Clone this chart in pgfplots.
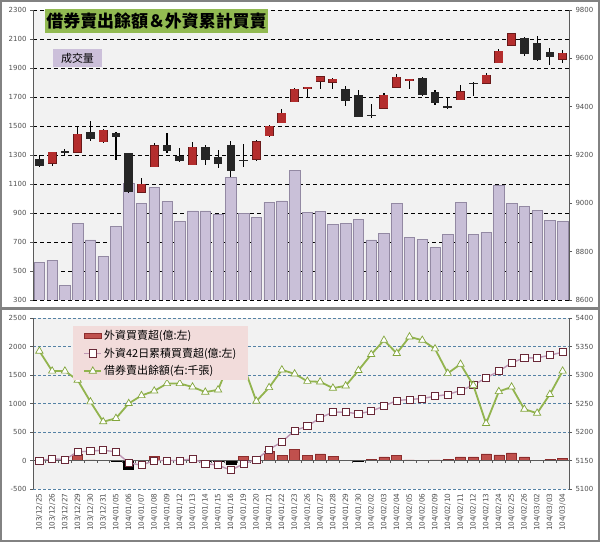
\documentclass[border=0pt]{standalone}
\usepackage{fontspec}
\setmainfont{DejaVu Sans}
\newfontfamily\cjk{Noto Sans CJK TC}
\usepackage{pgfplots}
\usepackage{pgfplotstable}
\pgfplotsset{compat=1.18}

\definecolor{plotbg}{RGB}{242,242,242}
\definecolor{volfill}{RGB}{214,205,228}
\definecolor{voldark}{RGB}{120,108,140}
\definecolor{upred}{RGB}{180,45,45}
\definecolor{upedge}{RGB}{105,25,25}
\definecolor{downblk}{RGB}{38,38,38}
\definecolor{fbar}{RGB}{192,80,77}
\definecolor{fbaredge}{RGB}{140,45,45}
\definecolor{sqline}{RGB}{190,150,180}
\definecolor{sqedge}{RGB}{105,40,55}
\definecolor{triline}{RGB}{146,180,78}
\definecolor{tribord}{RGB}{130,165,60}
\definecolor{titlegreen}{RGB}{146,186,82}
\definecolor{volbox}{RGB}{204,192,218}
\definecolor{legbg}{RGB}{242,220,219}
\definecolor{gridblue}{RGB}{85,130,165}
\definecolor{ticktext}{RGB}{80,80,80}
\definecolor{axisgray}{RGB}{90,90,90}
\definecolor{framegray}{RGB}{130,130,130}

% volume (left axis, top panel)
\pgfplotstableread{
i vol
0 560
1 575
2 400
3 830
4 715
5 600
6 810
7 1105
8 965
9 1075
10 978
11 840
12 914
13 914
14 891
15 1144
16 898
17 868
18 974
19 983
20 1192
21 905
22 909
23 820
24 829
25 857
26 714
27 760
28 967
29 732
30 718
31 663
32 755
33 974
34 755
35 767
36 1093
37 967
38 948
39 916
40 847
41 840
}\voltable

% rising candles (open, high, low, close)
\pgfplotstableread{
i o h l c
1 9166 9214 9154 9211
3 9212 9317 9212 9286
5 9255 9307 9251 9303
8 9046 9106 9046 9080
9 9152 9248 9152 9238
12 9159 9255 9159 9232
17 9182 9262 9176 9255
18 9279 9324 9273 9320
19 9334 9389 9334 9372
20 9421 9476 9421 9472
21 9478 9482 9435 9480
22 9506 9527 9472 9524
23 9501 9517 9472 9514
27 9393 9458 9393 9448
28 9480 9535 9476 9521
29 9510 9516 9472 9514
33 9428 9490 9428 9462
35 9497 9541 9497 9531
36 9582 9637 9579 9630
37 9655 9704 9655 9701
41 9596 9634 9579 9621
}\upcandles

% falling candles
\pgfplotstableread{
i o h l c
0 9182 9200 9150 9155
2 9215 9226 9197 9213
4 9294 9341 9259 9265
6 9292 9296 9179 9274
7 9207 9210 9041 9048
10 9241 9290 9210 9215
11 9196 9228 9172 9175
13 9232 9241 9159 9179
14 9190 9221 9147 9163
15 9241 9258 9108 9135
16 9180 9245 9152 9175
24 9472 9486 9403 9425
25 9448 9469 9358 9358
26 9366 9410 9352 9364
30 9517 9521 9444 9448
31 9462 9469 9407 9416
32 9403 9435 9390 9395
34 9498 9503 9444 9496
38 9683 9690 9610 9617
39 9662 9692 9589 9593
40 9625 9641 9572 9604
}\downcandles

% foreign net buy (positive)
\pgfplotstableread{
i v
3 117
4 10
9 76
16 76
18 164
19 94
20 193
21 88
22 117
23 76
26 20
27 64
28 88
29 10
31 10
32 20
33 64
34 64
35 117
36 99
37 134
38 64
40 20
41 33
}\fpos

% foreign net sell (negative)
\pgfplotstableread{
i v
6 -10
7 -158
13 -20
14 -10
15 -70
25 -10
}\fneg

% 42-day cumulative (left) and short-sale balance (right)
\pgfplotstableread{
i cum short
0 0 5342
1 29 5307
2 18 5307
3 152 5291
4 164 5253
5 181 5218
6 152 5224
7 -41 5250
8 -82 5264
9 0 5272
10 0 5285
11 0 5285
12 29 5279
13 -53 5270
14 -82 5274
15 -170 5328
16 -58 5316
17 18 5254
18 193 5278
19 327 5309
20 526 5302
21 602 5289
22 748 5288
23 848 5277
24 848 5281
25 819 5308
26 866 5336
27 953 5361
28 1053 5338
29 1070 5367
30 1088 5361
31 1128 5346
32 1158 5303
33 1228 5319
34 1321 5282
35 1450 5215
36 1567 5271
37 1713 5279
38 1801 5240
39 1801 5233
40 1847 5266
41 1900 5307
}\linetable

\pgfplotsset{
  mybase/.style={
    scale only axis, width=536bp, anchor=south west,
    xmin=-0.5, xmax=41.5,
    tick label style={font=\fontsize{7}{8}\selectfont, text=ticktext},
    tick align=outside, major tick length=3bp,
    tick style={axisgray, line width=0.6bp},
    y axis line style={draw=axisgray, line width=0.8bp},
    /pgf/number format/assume math mode=true,
    /pgf/number format/set thousands separator={},
  },
  nomark/.style={only marks, mark=none, mark size=0pt, mark options={draw=none, fill=none}},
}

\begin{document}
\begin{tikzpicture}[x=1bp,y=1bp]
\fill[white] (0,0) rectangle (600,542);
\path[use as bounding box] (0,0) rectangle (600,542);

%================ TOP PANEL ================
\begin{axis}[mybase, at={(33bp,242bp)}, height=290bp,
  ymin=300, ymax=2300, ytick={300,500,...,2300},
  axis y line*=left, axis x line=none,
  ymajorgrids, major grid style={black, line width=0.7bp, dash pattern=on 4bp off 3bp},
  axis background/.style={fill=plotbg}]
\addplot[ybar, bar width=10.5bp, bar shift=0pt, draw=voldark!80, line width=0.5bp,
  left color=volfill!88!voldark, middle color=volfill!40!white, right color=volfill!85!voldark]
  table[x=i, y=vol] {\voltable};
\end{axis}

\begin{axis}[mybase, at={(33bp,242bp)}, height=290bp,
  ymin=8600, ymax=9800, ytick={8600,8800,...,9800},
  axis y line*=right, axis x line=none]
% wicks
\addplot[nomark, error bars/.cd, y dir=both, y explicit, error mark=none,
  error bar style={line width=1.1bp, draw=black}]
  table[x=i, y expr={(\thisrow{h}+\thisrow{l})/2}, y error expr={(\thisrow{h}-\thisrow{l})/2}] {\upcandles};
\addplot[nomark, error bars/.cd, y dir=both, y explicit, error mark=none,
  error bar style={line width=1.1bp, draw=black}]
  table[x=i, y expr={(\thisrow{h}+\thisrow{l})/2}, y error expr={(\thisrow{h}-\thisrow{l})/2}] {\downcandles};
% bodies: outline then fill
\addplot[nomark, error bars/.cd, y dir=both, y explicit, error mark=none,
  error bar style={line width=9bp, draw=upedge}]
  table[x=i, y expr={(\thisrow{o}+\thisrow{c})/2}, y error expr={max(abs(\thisrow{c}-\thisrow{o})/2,1.6)+2}] {\upcandles};
\addplot[nomark, error bars/.cd, y dir=both, y explicit, error mark=none,
  error bar style={line width=7.4bp, draw=upred}]
  table[x=i, y expr={(\thisrow{o}+\thisrow{c})/2}, y error expr={max(abs(\thisrow{c}-\thisrow{o})/2,1.6)}] {\upcandles};
\addplot[nomark, error bars/.cd, y dir=both, y explicit, error mark=none,
  error bar style={line width=8.6bp, draw=downblk}]
  table[x=i, y expr={(\thisrow{o}+\thisrow{c})/2}, y error expr={max(abs(\thisrow{c}-\thisrow{o})/2,2)}] {\downcandles};
\end{axis}

%================ BOTTOM PANEL ================
\begin{axis}[mybase, at={(33bp,53bp)}, height=171bp,
  ymin=-500, ymax=2500, ytick={-500,0,...,2500},
  axis y line*=left, axis x line*=bottom,
  x axis line style={draw=none},
  xtick={0,...,41},
  xticklabels={103/12/25,103/12/26,103/12/27,103/12/29,103/12/30,103/12/31,104/01/05,104/01/06,104/01/07,104/01/08,104/01/09,104/01/12,104/01/13,104/01/14,104/01/15,104/01/16,104/01/19,104/01/20,104/01/21,104/01/22,104/01/23,104/01/26,104/01/27,104/01/28,104/01/29,104/01/30,104/02/02,104/02/03,104/02/04,104/02/05,104/02/06,104/02/09,104/02/10,104/02/11,104/02/12,104/02/13,104/02/24,104/02/25,104/02/26,104/03/02,104/03/03,104/03/04},
  xticklabel style={rotate=90, anchor=east, font=\fontsize{7.3}{8}\selectfont, text=ticktext, inner sep=1.5bp},
  major x tick style={draw=none},
  ymajorgrids, major grid style={gridblue, line width=0.7bp, dash pattern=on 3bp off 2bp},
  axis background/.style={fill=plotbg}]
\addplot[ybar, bar width=10bp, bar shift=0pt, fill=fbar, draw=fbaredge, line width=0.5bp]
  table[x=i, y=v] {\fpos};
\addplot[ybar, bar width=10bp, bar shift=0pt, fill=black, draw=black, line width=0.5bp]
  table[x=i, y=v] {\fneg};
\draw[axisgray, line width=0.8bp] (axis cs:-0.5,0) -- (axis cs:41.5,0);
\pgfplotsinvokeforeach{0.5,1.5,...,40.5}{
  \draw[axisgray, line width=0.6bp] (axis cs:#1,0) -- ([yshift=-3bp]axis cs:#1,0);
}
\addplot[sqline, line width=1.4bp, mark=square*, mark size=3.6bp,
  mark options={fill=white, draw=sqedge, line width=0.7bp}]
  table[x=i, y=cum] {\linetable};
\end{axis}

\begin{axis}[mybase, at={(33bp,53bp)}, height=171bp,
  ymin=5100, ymax=5400, ytick={5100,5150,...,5400},
  axis y line*=right, axis x line=none,
  legend cell align=left,
  legend style={at={(0.075,0.953)}, anchor=north west, fill=legbg, draw=none,
    font=\cjk\fontsize{11}{12}\selectfont, inner xsep=10bp, inner ysep=2bp,
    row sep=3bp}]
\addlegendimage{area legend, fill=fbar, draw=fbaredge}
\addlegendentry{外資買賣超(億:左)}
\addlegendimage{sqline, line width=1.4bp, mark=square*, mark size=3.6bp,
  mark options={fill=white, draw=sqedge, line width=0.7bp}}
\addlegendentry{外資42日累積買賣超(億:左)}
\addplot[triline, line width=1.8bp, mark=triangle*, mark size=4.2bp,
  mark options={fill=white, draw=tribord, line width=0.7bp}]
  table[x=i, y=short] {\linetable};
\addlegendentry{借券賣出餘額(右:千張)}
\end{axis}

%================ TITLES & FRAMES ================
\node[fill=titlegreen, minimum width=223bp, minimum height=24bp, inner sep=0pt,
  font=\cjk\bfseries\fontsize{17}{20}\selectfont] at (156.5,521) {借券賣出餘額＆外資累計買賣};
\node[fill=volbox, minimum width=49bp, minimum height=18bp, inner sep=0pt,
  font=\cjk\fontsize{11}{12}\selectfont] at (77.5,484) {成交量};

\draw[framegray, line width=1.5bp] (1,234) rectangle (599,541);
\draw[framegray, line width=1.5bp] (1,1) rectangle (599,233);
\end{tikzpicture}
\end{document}
